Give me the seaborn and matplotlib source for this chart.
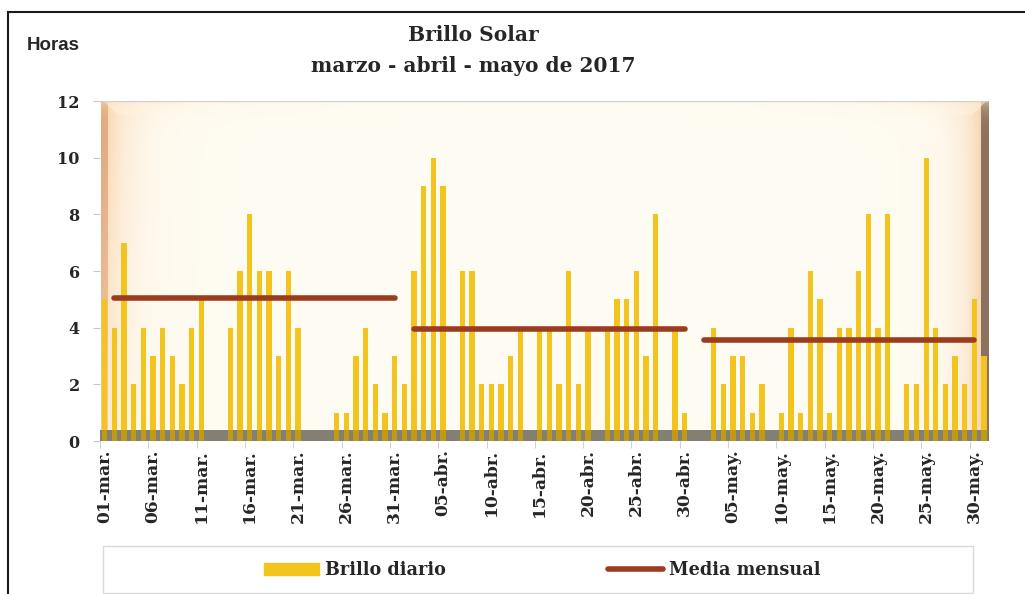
import numpy as np
import pandas as pd
import seaborn as sns
import matplotlib
matplotlib.use("Agg")
import matplotlib.pyplot as plt
from matplotlib.patches import Rectangle
from matplotlib.lines import Line2D

# Brillo solar diario (horas), marzo - mayo 2017
meses = ["mar.", "abr.", "may."]
brillo_marzo = [5, 4, 7, 2, 4, 3, 4, 3, 2, 4, 5, 0, 0, 4, 6, 8, 6, 6, 3, 6, 4, 0, 0, 0, 1, 1, 3, 4, 2, 1, 3]
brillo_abril = [2, 6, 9, 10, 9, 0, 6, 6, 2, 2, 2, 3, 4, 0, 4, 4, 2, 6, 2, 4, 0, 4, 5, 5, 6, 3, 8, 0, 4, 1]
brillo_mayo = [0, 0, 4, 2, 3, 3, 1, 2, 0, 1, 4, 1, 6, 5, 1, 4, 4, 6, 8, 4, 8, 0, 2, 2, 10, 4, 2, 3, 2, 5, 3]

# media mensual y tramo de dias que cubre cada linea
media_mensual = [5.04, 3.94, 3.55]
media_desde = ["02-mar.", "02-abr.", "02-may."]
media_hasta = ["31-mar.", "30-abr.", "30-may."]

yticks = [0, 2, 4, 6, 8, 10, 12]

COLOR_BAR = "#F4C41E"
COLOR_MEDIA = "#9C3B1E"
SERIF = "DejaVu Serif"

# 1. Tabla diaria
etiquetas, horas = [], []
for mes, valores in zip(meses, [brillo_marzo, brillo_abril, brillo_mayo]):
    for d, v in enumerate(valores, start=1):
        etiquetas.append(f"{d:02d}-{mes}")
        horas.append(v)
df = pd.DataFrame({"dia": etiquetas, "horas": horas})

# 2. Figura
sns.set_style("white")
plt.rcParams["font.family"] = [SERIF]

W_PX, H_PX = 1025, 594
fig = plt.figure(figsize=(W_PX / 100, H_PX / 100), dpi=100)
fig.patch.set_facecolor("white")
ax = fig.add_axes([100 / W_PX, 1 - 441 / H_PX, 888 / W_PX, 340 / H_PX])

xlim = (-0.43, 91.4)
ylim = (0, 12)

# fondo con bisel (solo decoracion)
H, W = 340, 888
yy, xx = np.mgrid[0:H, 0:W].astype(float)
img = np.ones((H, W, 3)) * np.array([1.0, 0.986, 0.95])


def mezcla(img, color, alpha):
    a = np.clip(alpha, 0, 1)[..., None]
    return img * (1 - a) + np.array(color) * a


dl, dr, dt = xx, W - 1 - xx, yy
fade_l = 1 - 0.55 * dt / H
img = mezcla(img, (0.97, 0.76, 0.55), 0.8 * np.exp(-dl / 22) * fade_l)
img = mezcla(img, (0.86, 0.62, 0.45), np.where(dl < 7, 0.8 * fade_l, 0))
img = mezcla(img, (0.94, 0.72, 0.50), 0.85 * np.exp(-dr / 18))
img = mezcla(img, (0.52, 0.43, 0.36), np.where(dr < 8, 0.95, 0))
corner = np.exp(-dl / 70) + np.exp(-dr / 70)
img = mezcla(img, (0.99, 0.86, 0.70), 0.6 * np.exp(-dt / 9) * corner)
img = mezcla(img, (1.0, 0.97, 0.90), np.where((dt < 14) & (dt < dl - 2) & (dt < dr - 2), 0.5 * corner, 0))
ax.imshow(img, extent=(*xlim, *ylim), aspect="auto", zorder=0, interpolation="bilinear")

# suelo gris
ax.axhspan(0, 0.4, color="#a0a0a0", zorder=2, lw=0)

# barras
sns.barplot(data=df, x="dia", y="horas", order=etiquetas, color=COLOR_BAR,
            saturation=1, width=0.55, ax=ax, zorder=3, errorbar=None, linewidth=0)

# sombra del suelo sobre las barras
ax.axhspan(0, 0.4, color="#3a2a00", alpha=0.28, zorder=4, lw=0)

# medias mensuales
for media, ini, fin in zip(media_mensual, media_desde, media_hasta):
    i0, i1 = etiquetas.index(ini), etiquetas.index(fin)
    xs = np.arange(i0, i1 + 1)
    sns.lineplot(x=xs, y=[media] * len(xs), ax=ax, color=COLOR_MEDIA,
                 linewidth=4, zorder=5, solid_capstyle="round")

ax.axhline(12, color="#D0D0D0", lw=1, zorder=1)

ax.set_xlim(*xlim)
ax.set_ylim(*ylim)
ax.set_yticks(yticks)
ax.set_yticklabels([str(t) for t in yticks], fontweight="bold", fontsize=11.5)
ax.tick_params(axis="y", length=5, color="#C8C8C8", pad=9.5, left=True)

pos = list(range(0, len(etiquetas), 5))
ax.set_xticks(pos)
ax.set_xticklabels([etiquetas[i] for i in pos], rotation=90, fontweight="bold", fontsize=12.3)
ax.tick_params(axis="x", which="major", length=0, pad=6)
ax.set_xticks([p - 0.5 for p in pos], minor=True)
ax.tick_params(axis="x", which="minor", length=5, color="#C8C8C8", bottom=True)
ax.set_xlabel("")
ax.set_ylabel("")
for s in ax.spines.values():
    s.set_visible(False)

# titulos
fig.text(473 / W_PX, 1 - 41 / H_PX, "Brillo Solar", ha="center", va="baseline",
         fontsize=14.5, fontweight="bold", color="#262626")
fig.text(473 / W_PX, 1 - 72 / H_PX, "marzo - abril - mayo de 2017", ha="center", va="baseline",
         fontsize=14.5, fontweight="bold", color="#262626")
fig.text(27 / W_PX, 1 - 50 / H_PX, "Horas", ha="left", va="baseline",
         fontsize=13.5, fontweight="bold", family="Liberation Sans", color="#262626")

# leyenda
handles = [Rectangle((0, 0), 1, 1, color=COLOR_BAR),
           Line2D([], [], color=COLOR_MEDIA, lw=4)]
fig.legend(handles, ["Brillo diario", "Media mensual"], loc="center",
           bbox_to_anchor=(542 / W_PX, 1 - 570 / H_PX), ncol=2, frameon=False,
           prop={"family": SERIF, "weight": "bold", "size": 12.7},
           handlelength=3.1, handleheight=0.7, handletextpad=0.35, columnspacing=9.2)
fig.patches.append(Rectangle((103 / W_PX, 1 - 593 / H_PX), 870 / W_PX, 47 / H_PX,
                             transform=fig.transFigure, fill=False, ec="#D9D9D9", lw=1))

# marco exterior (solo bordes superior e izquierdo visibles)
fig.patches.append(Rectangle((8 / W_PX, -0.1), 1.2, 1 - 12 / H_PX + 0.1,
                             transform=fig.transFigure, fill=False, ec="#1a1a1a", lw=1.5))

fig.savefig("out.png", dpi=100, facecolor="white")
